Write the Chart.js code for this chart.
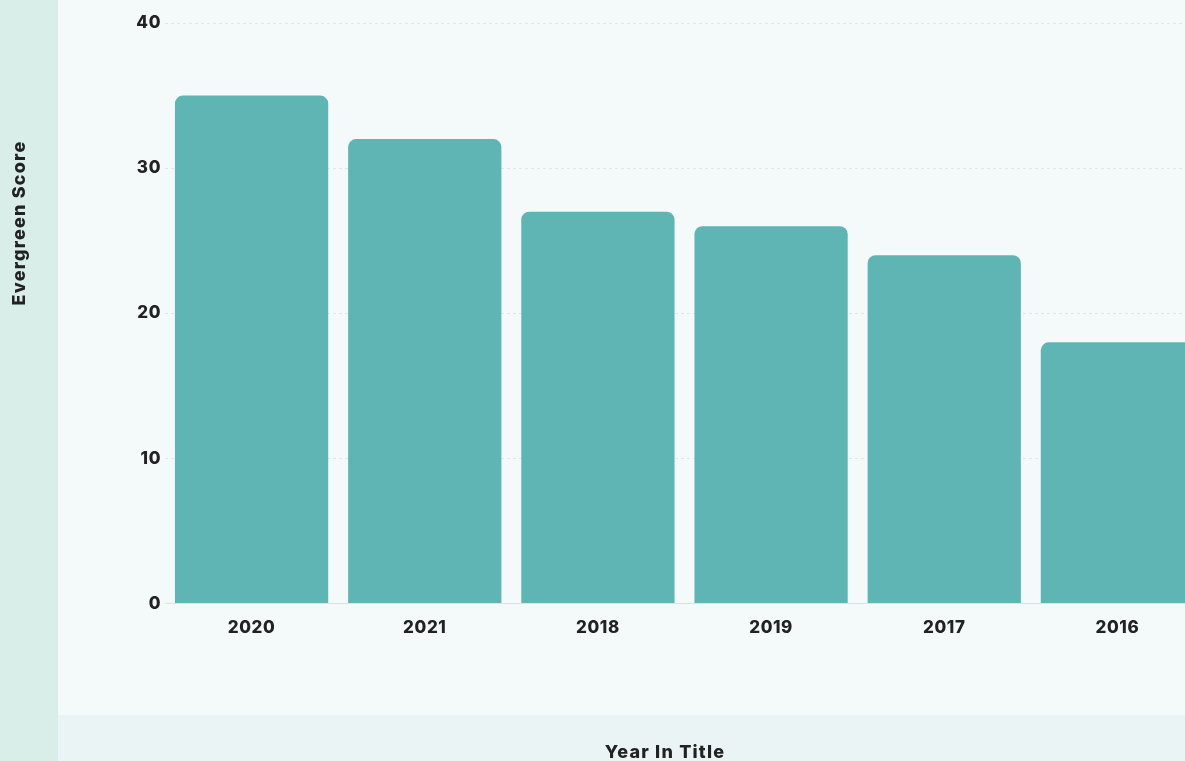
<!DOCTYPE html>
<html>
<head>
<meta charset="utf-8">
<script src="https://cdn.jsdelivr.net/npm/chart.js@4.4.1/dist/chart.umd.min.js"></script>
<style>
  html, body { margin: 0; padding: 0; overflow: hidden; background: #f4f9f9; }
  #wrap { position: relative; width: 1210px; height: 761px; }
</style>
</head>
<body>
<div id="wrap"><canvas id="scoreChart" width="1210" height="761"></canvas></div>
<script>
// Evergreen score by the year used in the title
const years = ['2020', '2021', '2018', '2019', '2017', '2016'];
const scores = [35, 32, 27, 26, 24, 18];
const yTicks = [0, 10, 20, 30, 40];

const xTitle = 'Year In Title';
const yTitle = 'Evergreen Score';
const fontFamily = 'Inter, "Noto Sans", sans-serif';

// Panels behind the chart plus both axis titles
const backdrop = {
    id: 'backdrop',
    beforeDraw(chart) {
        const c = chart.ctx;
        c.fillStyle = '#f4f9f9';
        c.fillRect(0, 0, chart.width, chart.height);
        c.fillStyle = '#daeee9';
        c.fillRect(0, 0, 58, chart.height);
        c.fillStyle = '#ebf4f4';
        c.fillRect(58, 715, chart.width - 58, chart.height - 715);
        // slightly spaced lettering for the tick labels
        c.letterSpacing = '0.6px';
    },
    afterDraw(chart) {
        const c = chart.ctx;
        c.save();
        c.fillStyle = '#222222';
        c.font = '800 18px ' + fontFamily;
        c.letterSpacing = '1.2px';
        c.textAlign = 'center';
        c.textBaseline = 'middle';
        c.fillText(xTitle, 665, 753);
        c.translate(20, 223);
        c.rotate(-Math.PI / 2);
        c.fillText(yTitle, 0, 0);
        c.restore();
    }
};

const ctx = document.getElementById('scoreChart').getContext('2d');
new Chart(ctx, {
    type: 'bar',
    data: {
        labels: years,
        datasets: [{
            label: yTitle,
            data: scores,
            backgroundColor: '#5fb4b4',
            borderRadius: { topLeft: 8, topRight: 8 },
            borderSkipped: 'start',
            categoryPercentage: 1,
            barPercentage: 0.885,
        }],
    },
    options: {
        responsive: false,
        animation: false,
        layout: { padding: { top: 23, right: 6, bottom: 109, left: 0 } },
        plugins: {
            legend: { display: false },
            tooltip: { enabled: false },
        },
        scales: {
            x: {
                grid: { display: false, drawTicks: false },
                border: { display: true, color: '#dde3e3' },
                ticks: {
                    color: '#222222',
                    font: { family: fontFamily, size: 17, weight: '800' },
                    padding: 14,
                },
            },
            y: {
                min: 0,
                max: 40,
                afterFit(scale) { scale.width = 165; },
                afterBuildTicks(scale) {
                    scale.ticks = yTicks.map(v => ({ value: v }));
                },
                grid: {
                    color: '#e2e6e6',
                    drawTicks: false,
                },
                border: { display: false, dash: [3, 3] },
                ticks: {
                    color: '#222222',
                    font: { family: fontFamily, size: 17, weight: '800' },
                    padding: 4,
                },
            },
        },
    },
    plugins: [backdrop],
});
</script>
</body>
</html>
